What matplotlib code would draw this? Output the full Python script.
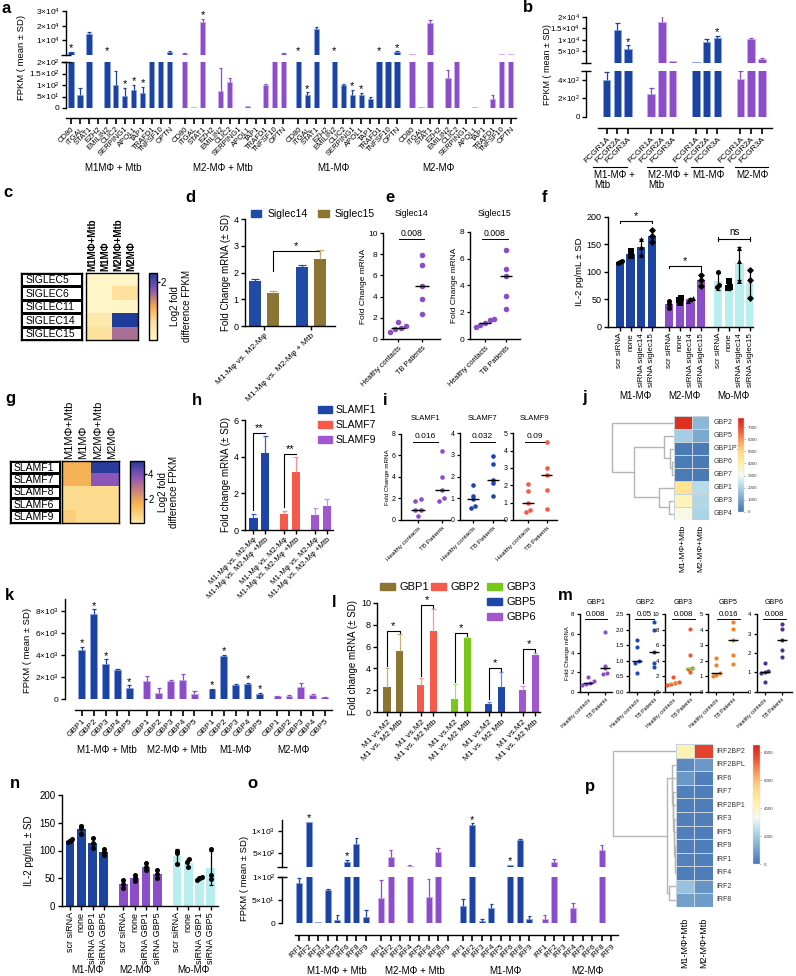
import numpy as np
import matplotlib
matplotlib.use("Agg")
import matplotlib.pyplot as plt
from matplotlib.colors import LinearSegmentedColormap, ListedColormap
from matplotlib.patches import Patch
from matplotlib.transforms import blended_transform_factory as blend

W, H = 796, 976

# ---------------- values ----------------
rna_groups_a = ['M1MΦ + Mtb', 'M2-MΦ + Mtb', 'M1-MΦ', 'M2-MΦ']
rna_groups = ['M1-MΦ + Mtb', 'M2-MΦ + Mtb', 'M1-MΦ', 'M2-MΦ']

# a
a_genes = ['CD80', 'ITGAL', 'STAT1', 'EZH2', 'EMILIN2', 'CLIC2', 'SERPING1',
           'APOL1', 'TAP1', 'TRAFD1', 'TNFSF10', 'OPTN']
a_fpkm = [[2000, 55, 14000, 2, 250, 102, 51, 77, 65, 300, 300, 2300],
          [1100, 3, 22800, 2, 72, 113, 0, 8, 0, 98, 300, 1200],
          [300, 58, 17700, 2, 300, 101, 58, 55, 39, 300, 300, 2300],
          [700, 3, 21800, 0, 130, 300, 0, 3, 0, 40, 700, 700]]
a_sd = [[300, 32, 1500, 0, 0, 58, 36, 24, 26, 0, 0, 200],
        [200, 0, 1700, 0, 102, 17, 0, 0, 0, 5, 0, 200],
        [0, 10, 1300, 0, 0, 3, 22, 10, 7, 0, 0, 200],
        [0, 0, 2000, 0, 37, 0, 0, 0, 0, 18, 0, 0]]
a_star = [[1, 0, 0, 0, 1, 0, 1, 1, 1, 0, 0, 0],
          [0, 0, 1, 0, 0, 0, 0, 0, 0, 0, 0, 0],
          [1, 1, 0, 0, 1, 0, 1, 1, 0, 1, 0, 1],
          [0, 0, 0, 0, 0, 0, 0, 0, 0, 0, 0, 0]]

# b
b_genes = ['FCGR1A', 'FCGR2A', 'FCGR3A']
b_groups = ['M1-MΦ +\nMtb', 'M2-MΦ +\nMtb', 'M1-MΦ', 'M2-MΦ']
b_fpkm = [[400, 14200, 6000], [245, 17600, 600], [520, 9000, 10900], [411, 10100, 1500]]
b_sd = [[90, 3100, 1500], [65, 2700, 0], [0, 1400, 700], [87, 500, 400]]
b_star = [[0, 0, 1], [0, 0, 0], [0, 0, 1], [0, 0, 0]]

# c
heat_cols = ['M1MΦ+Mtb', 'M1MΦ', 'M2MΦ+Mtb', 'M2MΦ']
siglec_rows = ['SIGLEC5', 'SIGLEC6', 'SIGLEC11', 'SIGLEC14', 'SIGLEC15']
siglec_log2 = [[0.05, 0.05, 0.05, 0.05],
               [0.05, 0.05, 0.6, 0.6],
               [0.05, 0.05, 0.05, 0.05],
               [0.4, 0.4, 2.3, 2.3],
               [0.6, 0.6, 1.55, 1.55]]

# d
d_groups = ['M1-Mφ vs. M2-Mφ', 'M1-Mφ vs. M2-Mφ + Mtb']
siglec14_fc, siglec14_sd = [1.68, 2.22], [0.10, 0.08]
siglec15_fc, siglec15_sd = [1.25, 2.52], [0.08, 0.33]

# e
donor_groups = ['Healthy contacts', 'TB Patients']
siglec14_healthy = [1.6, 1.25, 1.0, 0.9, 0.7]
siglec14_tb = [7.9, 7.0, 5.0, 3.8, 2.4]
siglec15_healthy = [1.5, 1.4, 1.2, 1.05, 0.9]
siglec15_tb = [6.65, 5.25, 4.68, 3.2, 2.2]

# f
cell_types = ['M1-MΦ', 'M2-MΦ', 'Mo-MΦ']
f_conditions = ['scr siRNA', 'none', 'siRNA siglec14', 'siRNA siglec15']
f_il2 = [[[116, 118, 120], [128, 133, 138], [130, 145, 160], [154, 165, 176]],
         [[35, 42, 47], [43, 49, 53], [47, 50, 53], [75, 85, 94]],
         [[72, 76, 100], [70, 72, 84], [83, 120, 143], [52, 85, 103]]]

# g
slamf_rows = ['SLAMF1', 'SLAMF7', 'SLAMF8', 'SLAMF6', 'SLAMF9']
slamf_log2 = [[1.6, 1.6, 5.0, 5.0],
              [1.6, 1.6, 3.8, 3.8],
              [0.45, 0.45, 0.45, 0.45],
              [0.45, 0.45, 0.45, 0.45],
              [0.8, 0.45, 0.45, 0.45]]

# h
h_labels = ['M1-Mφ vs. M2-Mφ', 'M1-Mφ vs. M2-Mφ +Mtb']
slamf_names = ['SLAMF1', 'SLAMF7', 'SLAMF9']
slamf_fc = [[0.64, 4.2], [0.87, 3.15], [0.82, 1.31]]
slamf_sd = [[0.23, 0.95], [0.18, 0.82], [0.36, 0.37]]

# i
slamf1_healthy, slamf1_tb = [1.95, 1.75, 0.95, 0.95, 0.4], [6.4, 3.95, 2.8, 2.05, 1.8]
slamf7_healthy, slamf7_tb = [1.61, 1.12, 0.97, 0.66, 0.55], [2.95, 2.58, 1.85, 1.69, 1.1]
slamf9_healthy, slamf9_tb = [2.06, 1.67, 1.0, 0.58, 0.48], [4.49, 3.02, 2.6, 1.73, 0.64]

# j
cl_cols = ['M1-MΦ+Mtb', 'M2-MΦ+Mtb']
gbp_rows = ['GBP2', 'GBP5', 'GBP1P1', 'GBP6', 'GBP7', 'GBP1', 'GBP3', 'GBP4']
gbp_fpkm_heat = [[7500, 1400], [1900, 1100], [150, 150], [150, 120], [130, 110],
                 [4500, 2200], [3700, 2100], [3200, 2000]]
gbp_tree = ['GBP2', [['GBP5', ['GBP1P1', ['GBP6', 'GBP7', 2.0], 4.5], 10.5],
                     ['GBP1', ['GBP3', 'GBP4', 5.5], 15.5], 40.5], 62.0]

# k
gbp_genes = ['GBP1', 'GBP2', 'GBP3', 'GBP4', 'GBP5']
k_fpkm = [[4450, 7700, 3230, 2670, 1000],
          [1600, 520, 1600, 1700, 450],
          [900, 3950, 1300, 1400, 480],
          [250, 280, 1050, 380, 150]]
k_sd = [[300, 450, 370, 30, 230],
        [450, 500, 150, 600, 250],
        [50, 80, 80, 100, 80],
        [60, 60, 400, 80, 40]]
k_star = [[1, 1, 1, 0, 1], [0, 0, 0, 0, 0], [1, 1, 0, 1, 1], [0, 0, 0, 0, 0]]

# l
l_genes = ['GBP1', 'GBP2', 'GBP3', 'GBP5', 'GBP6']
l_labels = ['M1 vs.M2', 'M1 vs. M2 Mtb']
gbp_fc_m1m2, gbp_sd_m1m2 = [2.35, 2.5, 1.2, 0.8, 2.0], [1.65, 0.6, 1.35, 0.15, 0.4]
gbp_fc_mtb, gbp_sd_mtb = [5.6, 7.45, 6.75, 2.35, 5.2], [1.55, 2.0, 0.15, 1.35, 0.25]

# m
m_genes = ['GBP1', 'GBP2', 'GBP3', 'GBP5', 'GBP6']
m_healthy = [[1.55, 1.15, 0.95, 0.75, 0.65], [1.67, 1.45, 1.0, 0.92, 0.59],
             [1.9, 1.25, 1.1, 1.0, 0.9], [2.15, 1.72, 1.19, 1.08, 1.03],
             [1.5, 1.05, 1.0, 0.95, 0.5]]
m_tb = [[6.15, 2.7, 2.4, 1.9, 1.83], [2.26, 1.99, 1.29, 0.92, 0.79],
        [8.06, 4.74, 3.02, 2.93, 2.5], [4.52, 4.02, 3.33, 2.37, 1.79],
        [3.49, 3.23, 2.66, 2.15, 1.8]]
m_p = ['0.008', '0.05', '0.008', '0.016', '0.008']

# n
n_conditions = ['scr siRNA', 'none', 'siRNA GBP1', 'siRNA GBP5']
n_il2 = [[[115, 118, 121], [130, 140, 145], [105, 113, 122], [92, 97, 103]],
         [[33, 40, 47], [45, 50, 55], [65, 70, 77], [50, 57, 65]],
         [[75, 95, 100], [70, 80, 84], [47, 50, 53], [48, 55, 103]]]

# o
irf_genes = ['IRF1', 'IRF2', 'IRF3', 'IRF4', 'IRF5', 'IRF6', 'IRF8', 'IRF9']
o_fpkm = [[87, 1200, 2, 71, 8, 320, 700, 14],
          [55, 420, 0, 230, 1, 56, 540, 0],
          [38, 1130, 5, 32, 1, 250, 790, 9],
          [10, 300, 1, 32, 0, 1, 570, 0]]
o_sd = [[10, 0, 0, 3, 10, 40, 130, 14],
        [38, 150, 0, 20, 0, 38, 70, 0],
        [14, 30, 4, 9, 0, 0, 20, 6],
        [8, 80, 0, 11, 0, 0, 110, 0]]
o_star = [[0, 1, 0, 0, 0, 1, 0, 0], [0] * 8, [0, 1, 0, 0, 0, 1, 0, 0], [0] * 8]

# p
irf_rows = ['IRF2BP2', 'IRF2BPL', 'IRF6', 'IRF7', 'IRF2BP1', 'IRF3', 'IRF5', 'IRF9',
            'IRF1', 'IRF4', 'IRF2', 'IRF8']
irf_fpkm_heat = [[4200, 7800], [500, 800], [800, 250], [250, 200], [200, 200], [250, 250],
                 [250, 200], [250, 200], [300, 250], [200, 200], [1800, 750], [1000, 900]]
irf_tree = ['IRF2BP2', [['IRF2BPL', ['IRF6', ['IRF7', ['IRF2BP1', ['IRF3', ['IRF5',
            ['IRF9', ['IRF1', 'IRF4', 1.0], 1.5], 2.0], 2.5], 3.0], 3.3], 3.6], 4.0],
            ['IRF2', 'IRF8', 7.5], 9.5], 63.5]

# ---------------- style ----------------
BLUE, BLUE_E = '#1c43a0', '#8aa4e6'
PURPLE, PURPLE_E = '#8c4dc8', '#cfadf2'
CYAN = '#b9eeee'
OLIVE = '#8c7432'
CORAL = '#f65a4a'
GREEN = '#78c81c'
LPURPLE = '#a257d0'

plt.rcParams.update({
    'font.family': ['Liberation Sans', 'DejaVu Sans'],
    'font.size': 7,
    'axes.linewidth': 1.0,
    'xtick.major.width': 1.0, 'ytick.major.width': 1.0,
    'xtick.major.size': 3, 'ytick.major.size': 3,
    'xtick.major.pad': 1.5, 'ytick.major.pad': 1.5,
    'mathtext.fontset': 'custom', 'mathtext.rm': 'Liberation Sans',
    'mathtext.default': 'regular',
})

cmap_c = LinearSegmentedColormap.from_list('c', ['#fff7c9', '#fde3a0', '#f6a94f', '#8857b4', '#1f3b99'])
cmap_g = LinearSegmentedColormap.from_list('g', [(0, '#fdeaa6'), (0.3, '#f8b452'), (0.55, '#c27b82'),
                                                 (0.75, '#8a55b8'), (1, '#22399a')])
cmap_rb = LinearSegmentedColormap.from_list('rb', [(0, '#4575b4'), (0.26, '#abd4e6'), (0.39, '#f5fbf3'),
                                                   (0.52, '#fff0a0'), (0.65, '#fed681'), (0.77, '#fa9a58'),
                                                   (0.9, '#e9492f'), (1, '#d9261c')])

fig = plt.figure(figsize=(W / 100, H / 100), dpi=100)


def box(x0, y0, x1, y1):
    ax = fig.add_axes([x0 / W, 1 - y1 / H, (x1 - x0) / W, (y1 - y0) / H])
    ax.patch.set_alpha(0)
    return ax


def fy(ypx):
    return 1 - ypx / H


def ftext(x, y, s, **kw):
    fig.text(x / W, fy(y), s, **kw)


def clean(ax):
    ax.spines[['top', 'right']].set_visible(False)


def sci(m, e):
    return f'{m}×10$^{{{e}}}$'


def set_yt(ax, ticks, labels, fs):
    if labels is None:
        ax.set_yticks(ticks)
    else:
        ax.set_yticks(ticks, labels)
    ax.tick_params(axis='y', labelsize=fs)


def spread(vals, tol, step=0.14):
    vals = np.asarray(vals, float)
    order = np.argsort(vals)
    offs = np.zeros(len(vals))
    clusters = [[order[0]]]
    for i in order[1:]:
        if vals[i] - vals[clusters[-1][-1]] < tol:
            clusters[-1].append(i)
        else:
            clusters.append([i])
    for c in clusters:
        offs[c] = (np.arange(len(c)) - (len(c) - 1) / 2) * step
    return offs


def bars_err(ax, x, vals, sds, width, color, edge, ecolor=None, lw=0.6, cap=0.3):
    x = np.asarray(x, float)
    vals = np.asarray(vals, float)
    sds = np.asarray(sds, float)
    color = np.broadcast_to(np.asarray(color, dtype=object), x.shape)
    edge = np.broadcast_to(np.asarray(edge, dtype=object), x.shape)
    ec = color if ecolor is None else np.broadcast_to(np.asarray(ecolor, dtype=object), x.shape)
    show = vals > 0
    ax.bar(x[show], vals[show], width, color=list(color[show]), edgecolor=list(edge[show]),
           linewidth=lw, zorder=2)
    has = sds > 0
    tops = vals + sds
    ax.vlines(x[has], vals[has], tops[has], colors=list(ec[has]), lw=0.9, zorder=3)
    ax.hlines(tops[has], x[has] - width * cap, x[has] + width * cap, colors=list(ec[has]), lw=0.9, zorder=3)


def broken_bars(xl, xr, top_px, bot_px, xs, vals, sds, stars, colors, edges, xlim, ylim_top, ylim_bot,
                yt_top, yl_top, yt_bot, yl_bot, width, x_out, labels, lab_fs, tick_fs, bounds=None):
    at = box(xl, top_px[0], xr, top_px[1])
    ab = box(xl, bot_px[0], xr, bot_px[1])
    vals = np.asarray(vals, float)
    sds = np.asarray(sds, float)
    colors = np.asarray(colors, dtype=object)
    edges = np.asarray(edges, dtype=object)
    for ax in (at, ab):
        ax.set_xlim(*xlim)
        clean(ax)
    at.set_ylim(*ylim_top)
    ab.set_ylim(*ylim_bot)
    up = vals > ylim_bot[1]
    bars_err(at, xs[up], vals[up], sds[up], width, colors[up], edges[up])
    bars_err(ab, xs, vals, sds, width, colors, edges)
    for xi, v, s, st in zip(xs, vals, sds, stars):
        if st:
            ax = at if v + s > ylim_bot[1] else ab
            ax.annotate('*', (xi, v + s), xytext=(0, -1), textcoords='offset points',
                        ha='center', va='bottom', fontsize=8, annotation_clip=False)
    set_yt(at, yt_top, yl_top, tick_fs)
    set_yt(ab, yt_bot, yl_bot, tick_fs)
    at.spines['bottom'].set_visible(False)
    at.tick_params(axis='x', bottom=False, labelbottom=False)
    ab.spines['bottom'].set_position(('outward', x_out))
    if bounds is not None:
        ab.spines['bottom'].set_bounds(*bounds)
    ab.set_xticks(xs, labels, rotation=45, ha='right', rotation_mode='anchor', fontsize=lab_fs)
    ab.tick_params(axis='x', length=4, width=1.2)
    for ax, yy in ((at, 0), (ab, 1)):
        ax.plot([0], [yy], marker='_', ms=7, mew=1.0, color='k', transform=ax.transAxes, clip_on=False)
    return at, ab


def dot_panel(bx, xh, xt, ymax, yticks, ytl, healthy, tb, color, title, title_y, p, p_y,
              fs_tick, fs_lab, fs_title, fs_p, size, med_color='k'):
    x0, y0, x1, y1 = bx
    ax = box(x0, y0, x1, y1)
    unit = xt - xh
    ax.set_xlim((x0 - xh) / unit, (x1 - xh) / unit)
    ax.set_ylim(0, ymax)
    clean(ax)
    for k, vals in enumerate((healthy, tb)):
        vals = np.asarray(vals, float)
        ax.scatter(k + spread(vals, ymax * 0.035, 0.22), vals, s=size, color=color, zorder=3, lw=0,
                   clip_on=False)
        ax.hlines(np.median(vals), k - 0.3, k + 0.3, color=med_color, lw=1.0, zorder=4)
    set_yt(ax, yticks, ytl, fs_tick)
    ax.tick_params(length=2.5, width=0.9)
    ax.set_xticks([0, 1], donor_groups, rotation=45, ha='right', rotation_mode='anchor', fontsize=fs_lab)
    tr = blend(ax.transAxes, fig.transFigure)
    ax.text(0.5, fy(title_y), title, transform=tr, ha='center', va='center', fontsize=fs_title)
    ax.text(0.5, fy(p_y), p, transform=tr, ha='center', va='center', fontsize=fs_p)
    hw = len(p) * fs_p * 1.389 * 0.29 / (x1 - x0)
    ax.plot([0.5 - hw, 0.5 + hw], [fy(p_y + fs_p * 0.75)] * 2, transform=tr, color='k', lw=0.7,
            clip_on=False)
    return ax


def log2_heat(tbl_box, hm_box, cb_box, rows, vals, cmap, vmax, cticks, col_fs, col_w, row_fs, cb_fs):
    lt = box(*tbl_box)
    lt.pcolormesh(np.zeros((len(rows), 1)), cmap=ListedColormap(['white']), edgecolors='k', linewidth=1.0)
    lt.set_ylim(len(rows), 0)
    lt.set_xticks([])
    lt.set_yticks([])
    for i, r in enumerate(rows):
        lt.text(0.08, i + 0.55, r, ha='left', va='center', fontsize=row_fs)
    hm = box(*hm_box)
    im = hm.pcolormesh(np.asarray(vals, float), cmap=cmap, vmin=0, vmax=vmax)
    hm.set_ylim(len(rows), 0)
    hm.set_xticks([])
    hm.set_yticks([])
    for j, c in enumerate(heat_cols):
        hm.text(j + 0.5, -0.15, c, rotation=90, ha='center', va='bottom', fontsize=col_fs, fontweight=col_w)
    cax = box(*cb_box)
    cb = fig.colorbar(im, cax=cax, ticks=cticks)
    cb.outline.set_linewidth(1.0)
    cax.tick_params(labelsize=cb_fs, length=2, pad=1)
    cb.set_label('Log2 fold\ndifference FPKM', fontsize=cb_fs, labelpad=3)


def dendro(ax, node, leaf_pos):
    if isinstance(node, str):
        return leaf_pos[node], 0.0
    left, right, h = node
    y1, h1 = dendro(ax, left, leaf_pos)
    y2, h2 = dendro(ax, right, leaf_pos)
    ax.plot([h1, h, h, h2], [y1, y1, y2, y2], color='#b5b5b5', lw=1.0)
    return (y1 + y2) / 2, h


def cluster_heat(dn_box, hm_box, cb_box, rows, vals, tree, vmax, cticks, col_gap, row_fs, col_fs, cb_fs):
    dn = box(*dn_box)
    dendro(dn, tree, {r: i + 0.5 for i, r in enumerate(rows)})
    dn.set_xlim(dn_box[2] - dn_box[0], 0)
    dn.set_ylim(len(rows), 0)
    dn.axis('off')
    hm = box(*hm_box)
    im = hm.pcolormesh(np.asarray(vals, float), cmap=cmap_rb, vmin=0, vmax=vmax,
                       edgecolors='#c9d3dc', linewidth=0.4)
    hm.set_ylim(len(rows), 0)
    hm.axis('off')
    for i, r in enumerate(rows):
        hm.text(2.22, i + 0.5, r, ha='left', va='center', fontsize=row_fs, color='#333333')
    for j, c in enumerate(cl_cols):
        hm.text(j + 0.5, len(rows) + col_gap, c, rotation=90, ha='center', va='top', fontsize=col_fs)
    cax = box(*cb_box)
    cb = fig.colorbar(im, cax=cax, ticks=cticks)
    cb.outline.set_linewidth(0.3)
    cb.outline.set_edgecolor('#dddddd')
    cax.tick_params(labelsize=cb_fs, length=1, width=0.4, pad=1.5, colors='#444444')


def bracket(ax, x1, x2, y_left, y, star, drop=0.0, fs=8, lw=0.8):
    ax.plot([x1, x1, x2, x2], [y_left, y, y, y - drop], color='k', lw=lw)
    ax.text((x1 + x2) / 2, y, star, ha='center', va='bottom', fontsize=fs)


def il2_panel(bx, step, pts_all, markers, xlim, cond_labels, lab_fs, tick_fs):
    ax = box(*bx)
    clean(ax)
    colors = [BLUE, PURPLE, CYAN]
    xs = []
    for g, pts in enumerate(pts_all):
        pts = np.asarray(pts, float)
        x = g * step + np.arange(len(pts))
        xs.append(x)
        means = pts.mean(1)
        sds = pts.std(1, ddof=1)
        ax.bar(x, means, 0.78, color=colors[g], zorder=1)
        ax.errorbar(x, means, yerr=sds, fmt='none', ecolor='k', elinewidth=0.9, capsize=1.5,
                    capthick=0.9, zorder=3)
        for k in range(len(pts)):
            ax.scatter(x[k] + spread(pts[k], 5, 0.2), pts[k], s=13, marker=markers[k], color='k',
                       zorder=4, lw=0)
    ax.set_xlim(*xlim)
    ax.set_ylim(0, 200)
    set_yt(ax, [0, 50, 100, 150, 200], None, tick_fs)
    allx = np.concatenate(xs)
    ax.set_xticks(allx, cond_labels * len(pts_all), rotation=90, ha='center', va='top', fontsize=lab_fs)
    return ax, xs


# ---------------- a ----------------
xa = np.concatenate([g * 12.67 + np.arange(len(a_genes)) for g in range(4)])
ca = [BLUE if g % 2 == 0 else PURPLE for g in range(4) for _ in a_genes]
ea = [BLUE_E if g % 2 == 0 else PURPLE_E for g in range(4) for _ in a_genes]
broken_bars(66, 516, (11, 55), (62, 108), xa, np.ravel(a_fpkm), np.ravel(a_sd), np.ravel(a_star), ca, ea,
            (-0.56, 49.6), (0, 30000), (0, 200),
            [1e4, 2e4, 3e4], [sci(1, 4), sci(2, 4), sci(3, 4)],
            [0, 50, 100, 150, 200], ['0', sci(5, 1), sci(1, 2), sci(1.5, 2), sci(2, 2)],
            0.58, 7.2, a_genes * 4, 5.5, 6)
ftext(22, 57, 'FPKM ( mean ± SD)', rotation=90, ha='center', va='center', fontsize=6.8)
for lab, x in zip(rna_groups_a, [113, 223, 333, 438]):
    ftext(x, 168, lab, ha='center', va='center', fontsize=7)

# ---------------- b ----------------
xb = np.concatenate([g * 4.15 + np.arange(3) for g in range(4)])
cb_ = [BLUE if g % 2 == 0 else PURPLE for g in range(4) for _ in b_genes]
eb_ = [BLUE_E if g % 2 == 0 else PURPLE_E for g in range(4) for _ in b_genes]
broken_bars(586, 772, (16.7, 62.7), (71, 116.7), xb, np.ravel(b_fpkm), np.ravel(b_sd), np.ravel(b_star),
            cb_, eb_, (-1.93, 15.4), (0, 20000), (0, 500),
            [5e3, 1e4, 1.5e4, 2e4], [sci(5, 3), sci(1, 4), sci(1.5, 4), sci(2, 4)],
            [0, 200, 400], ['0', sci(2, 2), sci(4, 2)], 0.70, 7.9, b_genes * 4, 6, 5.8,
            bounds=(-0.85, 15.4))
ftext(548, 65, 'FPKM ( mean ± SD)', rotation=90, ha='center', va='center', fontsize=6.5)
for lab, (l0, l1) in zip(b_groups, [(593, 627), (647, 677), (691, 723), (735, 768)]):
    fig.add_artist(plt.Line2D([l0 / W, l1 / W], [fy(167), fy(167)], color='k', lw=0.8))
    ftext(l0 + 1, 170, lab, ha='left', va='top', fontsize=7, linespacing=1.0)

# ---------------- c ----------------
log2_heat((21, 273, 82, 340), (85.7, 273, 138.3, 340), (149, 273, 156.7, 340), siglec_rows, siglec_log2,
          cmap_c, 2.3, [2], 7, 'bold', 7.5, 7)

# ---------------- d ----------------
ad = box(245, 219.3, 335, 326)
clean(ad)
xd = np.arange(len(d_groups))
bars_err(ad, xd - 0.19, siglec14_fc, siglec14_sd, 0.27, '#1f4aa8', '#1f4aa8', lw=0)
bars_err(ad, xd + 0.19, siglec15_fc, siglec15_sd, 0.27, OLIVE, OLIVE, ecolor='#c4ad7a', lw=0)
ad.set_xlim(-0.405, 1.51)
ad.set_ylim(0, 4)
set_yt(ad, [0, 1, 2, 3, 4], None, 6.5)
ad.set_xticks(xd, d_groups, rotation=45, ha='right', rotation_mode='anchor', fontsize=6)
ad.set_ylabel('Fold Change mRNA (± SD)', fontsize=7, labelpad=2)
d_top_left = max(siglec14_fc[0] + siglec14_sd[0], siglec15_fc[0] + siglec15_sd[0])
d_top_right = siglec15_fc[1] + siglec15_sd[1]
bracket(ad, xd[0] + 0.19, xd[1] + 0.19, d_top_left + 0.3, d_top_right - 0.05, '*', drop=0.12)
ad.legend([Patch(color='#1f4aa8'), Patch(color=OLIVE)], ['Siglec14', 'Siglec15'], ncol=2,
          loc='upper left', bbox_to_anchor=(251 / W, fy(209)), bbox_transform=fig.transFigure,
          frameon=False, fontsize=7.5, handlelength=1.0, handleheight=0.6, handletextpad=0.6,
          columnspacing=1.0, borderaxespad=0, borderpad=0)

# ---------------- e ----------------
e1 = dot_panel((383, 233, 440, 339), 398, 422, 10, [0, 2, 4, 6, 8, 10], None, siglec14_healthy, siglec14_tb,
               PURPLE, 'Siglec14', 214, '0.008', 234, 6, 5.3, 6.3, 6.3, 16)
e1.set_ylabel('Fold Change mRNA', fontsize=6, labelpad=1)
e2 = dot_panel((470, 231.7, 520, 339), 485, 506, 8, [0, 2, 4, 6, 8], None, siglec15_healthy, siglec15_tb,
               PURPLE, 'Siglec15', 214, '0.008', 234, 6, 5.3, 6.3, 6.3, 16)
e2.set_ylabel('Fold Change mRNA', fontsize=6, labelpad=1)

# ---------------- f ----------------
af, xf = il2_panel((608, 217, 753, 326.7), 4.6, f_il2, ['o', 's', '^', 'D'], (-1.12, 12.47),
                   f_conditions, 5.8, 6.5)
af.set_ylabel('IL-2 pg/mL ± SD', fontsize=6.8, labelpad=2)
for g, pts in enumerate(f_il2):
    top = np.max(pts) + 17
    if g < 2:
        bracket(af, xf[g][0], xf[g][-1], top - 4, top, '*', drop=4 + 6 * g)
    else:
        af.plot([xf[g][0], xf[g][-1]], [top, top], color='k', lw=0.8)
        af.plot([xf[g][0]] * 2, [top - 4, top + 4], color='k', lw=0.8)
        af.plot([xf[g][-1]] * 2, [top - 4, top + 4], color='k', lw=0.8)
        af.text(np.mean(xf[g][[0, -1]]), top + 3, 'ns', ha='center', va='bottom', fontsize=7)
for lab, x in zip(cell_types, [635, 684, 733]):
    ftext(x, 396, lab, ha='center', va='center', fontsize=7)

# ---------------- g ----------------
log2_heat((10, 461, 60, 522.7), (61.7, 461, 119.3, 522.7), (130, 461, 144, 522.7), slamf_rows, slamf_log2,
          cmap_g, 5.1, [2, 4], 8, 'normal', 7.5, 7)

# ---------------- h ----------------
ah = box(245, 420, 333, 530)
clean(ah)
h_cols = ['#1f45a8', CORAL, LPURPLE]
h_ecols = ['#3c5cb8', '#f8928a', '#c596e6']
for k in range(3):
    bars_err(ah, k + np.array([-0.19, 0.19]), slamf_fc[k], slamf_sd[k], 0.27, h_cols[k], h_cols[k],
             ecolor=h_ecols[k], lw=0)
ah.set_xlim(-0.46, 2.39)
ah.set_ylim(0, 6)
set_yt(ah, [0, 2, 4, 6], None, 6.5)
xh = np.concatenate([k + np.array([-0.19, 0.19]) for k in range(3)])
ah.set_xticks(xh, h_labels * 3, rotation=45, ha='right', rotation_mode='anchor', fontsize=5.6)
ah.set_ylabel('Fold change mRNA (± SD)', fontsize=7, labelpad=2)
for k in range(2):
    tops = np.add(slamf_fc[k], slamf_sd[k])
    bracket(ah, k - 0.19, k + 0.19, tops[0] + 0.2, tops.max() + 0.15, '**', fs=8)
ah.legend([Patch(color=c) for c in h_cols], slamf_names, loc='upper left',
          bbox_to_anchor=(318 / W, fy(405)), bbox_transform=fig.transFigure, frameon=False, fontsize=7.5,
          handlelength=1.35, handleheight=0.7, handletextpad=0.35, labelspacing=0.5, borderaxespad=0,
          borderpad=0)

# ---------------- i ----------------
i1 = dot_panel((401, 433.6, 450, 520), 418, 441.7, 8, [0, 2, 4, 6, 8], None, slamf1_healthy, slamf1_tb,
               PURPLE, 'SLAMF1', 419, '0.016', 437, 5, 4.5, 5.5, 6, 11)
i1.set_ylabel('Fold Change mRNA', fontsize=4.5, labelpad=1)
dot_panel((460, 433.3, 505, 520), 473, 493, 4, [0, 1, 2, 3, 4], None, slamf7_healthy, slamf7_tb,
          '#1f45b0', 'SLAMF7', 419, '0.032', 437, 5, 4.5, 5.5, 6, 11)
dot_panel((513, 433.3, 557, 520), 528, 546.7, 5, [0, 1, 2, 3, 4, 5], None, slamf9_healthy, slamf9_tb,
          CORAL, 'SLAMF9', 419, '0.09', 437, 5, 4.5, 5.5, 6, 11)

# ---------------- j ----------------
cluster_heat((611, 416, 674, 520), (674, 416, 709.3, 520), (737.7, 418.3, 744.3, 511.7), gbp_rows,
             gbp_fpkm_heat, gbp_tree, 7750, list(range(0, 7001, 1000)), 0.38, 5, 6, 3.2)

# ---------------- k ----------------
ak = box(65, 599, 331.7, 699)
clean(ak)
xk = np.concatenate([g * 5.47 + np.arange(5) for g in range(4)])
ck = [BLUE if g % 2 == 0 else PURPLE for g in range(4) for _ in gbp_genes]
ek = [BLUE_E if g % 2 == 0 else PURPLE_E for g in range(4) for _ in gbp_genes]
kv, ks = np.ravel(k_fpkm), np.ravel(k_sd)
bars_err(ak, xk, kv, ks, 0.58, ck, ek)
for xi, v, s, st in zip(xk, kv, ks, np.ravel(k_star)):
    if st:
        ak.annotate('*', (xi, v + s), xytext=(0, -1), textcoords='offset points', ha='center', va='bottom',
                    fontsize=8)
ak.set_xlim(-1.41, 21.0)
ak.set_ylim(0, 9100)
set_yt(ak, [0, 2000, 4000, 6000, 8000], ['0', sci(2, 3), sci(4, 3), sci(6, 3), sci(8, 3)], 6)
ak.spines['bottom'].set_position(('outward', 7.9))
ak.spines['bottom'].set_bounds(-0.57, 21.0)
ak.set_xticks(xk, gbp_genes * 4, rotation=45, ha='right', rotation_mode='anchor', fontsize=6)
ak.tick_params(axis='x', length=4, width=1.2)
ftext(28, 650, 'FPKM ( mean ± SD)', rotation=90, ha='center', va='center', fontsize=6.8)
for lab, x in zip(rna_groups, [107, 177, 235, 293]):
    ftext(x, 750, lab, ha='center', va='center', fontsize=7)

# ---------------- l ----------------
al = box(377.3, 602.7, 540, 712.3)
clean(al)
l_cols = [OLIVE, CORAL, GREEN, '#1f47a8', LPURPLE]
l_ecols = ['#c8b07a', '#f99a90', '#a6e070', '#6a8ad8', '#c49ae6']
xl = np.arange(len(l_genes))
for k in range(len(l_genes)):
    bars_err(al, xl[k] + np.array([-0.185, 0.185]), [gbp_fc_m1m2[k], gbp_fc_mtb[k]],
             [gbp_sd_m1m2[k], gbp_sd_mtb[k]], 0.21, l_cols[k], l_cols[k], ecolor=l_ecols[k], lw=0)
    t_left = gbp_fc_m1m2[k] + gbp_sd_m1m2[k]
    t_right = gbp_fc_mtb[k] + gbp_sd_mtb[k]
    bracket(al, xl[k] - 0.185, xl[k] + 0.185, t_left + 0.25, max(t_left, t_right) + 0.3, '*', drop=0.3)
al.set_xlim(-0.47, 4.33)
al.set_ylim(0, 10)
set_yt(al, [0, 2, 4, 6, 8, 10], None, 6.5)
xl2 = np.concatenate([k + np.array([-0.185, 0.185]) for k in xl])
al.set_xticks(xl2, l_labels * len(l_genes), rotation=45, ha='right', rotation_mode='anchor', fontsize=6)
al.set_ylabel('Fold change mRNA (± SD)', fontsize=7, labelpad=2)
leg1 = al.legend([Patch(color=c) for c in l_cols[:2]], l_genes[:2], ncol=2, loc='upper left',
                 bbox_to_anchor=(380 / W, fy(582)), bbox_transform=fig.transFigure, frameon=False,
                 fontsize=8, handlelength=1.35, handleheight=0.6, handletextpad=0.4, columnspacing=0.2,
                 borderaxespad=0, borderpad=0)
al.add_artist(leg1)
al.legend([Patch(color=c) for c in l_cols[2:]], l_genes[2:], loc='upper left',
          bbox_to_anchor=(487 / W, fy(582)), bbox_transform=fig.transFigure, frameon=False, fontsize=8,
          handlelength=1.35, handleheight=0.6, handletextpad=0.4, labelspacing=0.45, borderaxespad=0,
          borderpad=0)

# ---------------- m ----------------
m_boxes = [(580, 614.3, 612, 691.7), (629.3, 614.3, 660, 691.7), (665, 614.3, 702, 691.7),
           (708.3, 614.3, 748, 691.7), (756.7, 614.3, 792, 691.7)]
m_cols = [PURPLE, '#1f4ab0', '#f0582c', '#f08424', '#52308f']
m_meds = ['k', 'k', '#8fd060', 'k', 'k']
m_ymax = [8, 2.5, 10, 5, 4]
m_ticks = [[0, 2, 4, 6, 8], [0, 0.5, 1.0, 1.5, 2.0, 2.5], [0, 2, 4, 6, 8, 10], [0, 1, 2, 3, 4, 5],
           [0, 1, 2, 3, 4]]
m_tl = [None, ['0.0', '0.5', '1.0', '1.5', '2.0', '2.5'], None, None, None]
for k in range(5):
    bx = m_boxes[k]
    axm = dot_panel(bx, bx[0] + 8, bx[0] + 25, m_ymax[k], m_ticks[k], m_tl[k], m_healthy[k], m_tb[k],
                    m_cols[k], m_genes[k], 602, m_p[k], 615, 4.3, 3.8, 5, 5.7, 9, med_color=m_meds[k])
    if k == 0:
        axm.set_ylabel('Fold Change mRNA', fontsize=4.3, labelpad=1)

# ---------------- n ----------------
an, xn = il2_panel((61.7, 795, 218, 906), 4.75, n_il2, ['o', 'o', 'o', 'o'], (-0.74, 13.15),
                   n_conditions, 6.5, 7)
an.set_ylabel('IL-2 pg/mL ± SD', fontsize=7, labelpad=4)
for lab, x in zip(cell_types, [87, 135, 193]):
    ftext(x, 970, lab, ha='center', va='center', fontsize=7)

# ---------------- o ----------------
xo = np.concatenate([g * 8.6 + np.arange(len(irf_genes)) for g in range(4)])
co = [BLUE if g % 2 == 0 else PURPLE for g in range(4) for _ in irf_genes]
eo = [BLUE_E if g % 2 == 0 else PURPLE_E for g in range(4) for _ in irf_genes]
broken_bars(281.7, 618.3, (820, 866.7), (876.7, 923.3), xo, np.ravel(o_fpkm), np.ravel(o_sd),
            np.ravel(o_star), co, eo, (-1.85, 33.55), (206, 1237), (0, 100),
            [500, 1000], [sci(5, 2), sci(1, 3)], [0, 50, 100], ['0', sci(5, 1), sci(1, 2)],
            0.63, 8.4, irf_genes * 4, 5.5, 6, bounds=(-0.45, 33.55))
ftext(245, 878, 'FPKM ( mean ± SD)', rotation=90, ha='center', va='center', fontsize=6.8)
for lab, x in zip(rna_groups, [337, 415, 505, 587]):
    ftext(x, 971.5, lab, ha='center', va='center', fontsize=7)

# ---------------- p ----------------
cluster_heat((612, 744.3, 676, 906.7), (676, 744.3, 712.7, 906.7), (753.3, 745, 760, 864.3), irf_rows,
             irf_fpkm_heat, irf_tree, 8500, [0, 2000, 4000, 6000, 8000], 0.84, 5, 6.5, 3.2)

# ---------------- panel letters ----------------
for s, x, y in [('a', 1, 13), ('b', 523, 12), ('c', 3, 197), ('d', 185, 202), ('e', 385, 202),
                ('f', 542, 202), ('g', 5, 403), ('h', 192, 405), ('i', 383, 405), ('j', 582, 402),
                ('k', 5, 600), ('l', 332, 607), ('m', 558, 600), ('n', 10, 788), ('o', 247, 788),
                ('p', 585, 791)]:
    ftext(x, y, s, ha='left', va='baseline', fontsize=12, fontweight='bold')

fig.savefig('out.png', dpi=100)
